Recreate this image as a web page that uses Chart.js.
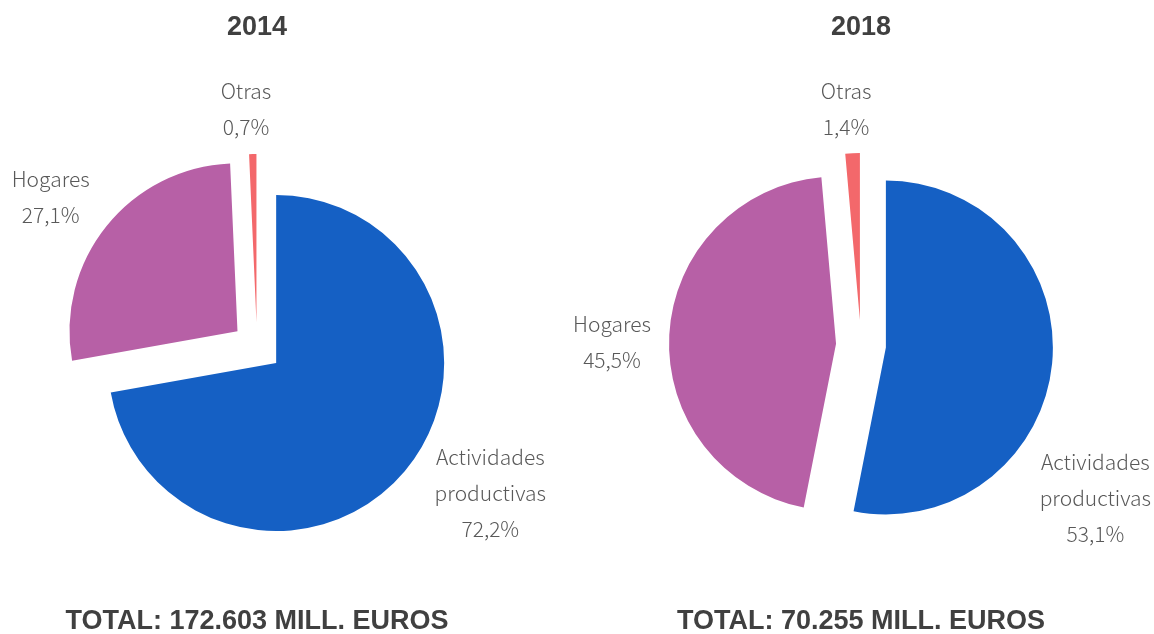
<!DOCTYPE html>
<html lang="es">
<head>
<meta charset="UTF-8">
<title>Distribución por sector</title>
<script src="https://cdn.jsdelivr.net/npm/chart.js"></script>
<style>
    body { margin: 0; background: #fff; }
    .wrap { position: relative; width: 1154px; height: 634px; }
    .wrap canvas { position: absolute; top: 0; }
    #pie2014 { left: 0; }
    #pie2018 { left: 540px; }
</style>
</head>
<body>
<div class="wrap">
    <canvas id="pie2014" width="577" height="634"></canvas>
    <canvas id="pie2018" width="614" height="634"></canvas>
</div>
<script>
    // datos
    const categories = [['Actividades', 'productivas'], 'Hogares', 'Otras'];
    const years = ['2014', '2018'];
    const shares2014 = [72.2, 27.1, 0.7];
    const shares2018 = [53.1, 45.5, 1.4];
    const totals = ['172.603', '70.255'];

    const colors = ['#1560C4', '#B760A6', '#F3686B'];
    const textColor = '#595959';

    // separa cada porción del centro (pie "explotado")
    const explodePlugin = {
        id: 'explode',
        beforeDatasetDraw(chart, args, opts) {
            const ctx = chart.ctx;
            args.meta.data.forEach(arc => {
                const p = arc.getProps(['startAngle', 'endAngle'], true);
                const mid = (p.startAngle + p.endAngle) / 2;
                ctx.save();
                ctx.translate(Math.cos(mid) * opts.distance, Math.sin(mid) * opts.distance);
                arc.draw(ctx);
                ctx.restore();
            });
            return false;
        }
    };

    // etiquetas fuera del círculo
    const outLabels = {
        id: 'outLabels',
        afterDatasetsDraw(chart, args, opts) {
            const ctx = chart.ctx;
            const meta = chart.getDatasetMeta(0);
            const values = chart.data.datasets[0].data;
            ctx.save();
            ctx.font = '300 21px "Noto Sans CJK JP", "Noto Sans", sans-serif';
            ctx.fillStyle = textColor;
            ctx.textAlign = 'center';
            ctx.textBaseline = 'middle';
            meta.data.forEach((arc, i) => {
                const p = arc.getProps(['x', 'y', 'startAngle', 'endAngle', 'outerRadius'], true);
                const ang = (p.startAngle + p.endAngle) / 2 + opts.shift[i] * Math.PI / 180;
                const d = p.outerRadius + opts.gap[i];
                const px = p.x + Math.cos(ang) * d;
                const py = p.y + Math.sin(ang) * d;
                const name = chart.data.labels[i];
                const lines = (Array.isArray(name) ? name : [name])
                    .concat(values[i].toFixed(1).replace('.', ',') + '%');
                lines.forEach((t, k) => {
                    ctx.fillText(t, px, py + (k - (lines.length - 1) / 2) * 36);
                });
            });
            ctx.restore();
        }
    };

    function makePie(id, year, shares, total, radius, padTitle, pad, labelShift, labelGap) {
        new Chart(document.getElementById(id), {
            type: 'pie',
            data: {
                labels: categories,
                datasets: [{
                    data: shares,
                    backgroundColor: colors,
                    borderWidth: 0
                }]
            },
            options: {
                responsive: false,
                animation: false,
                radius: radius,
                layout: { padding: pad },
                plugins: {
                    legend: { display: false },
                    tooltip: { enabled: false },
                    title: {
                        display: true,
                        text: year,
                        fullSize: false,
                        color: '#404040',
                        font: { family: '"Liberation Sans", Arial, sans-serif', size: 27, weight: 'bold', lineHeight: 1.2 },
                        padding: { top: 11, bottom: padTitle }
                    },
                    subtitle: {
                        display: true,
                        position: 'bottom',
                        text: 'TOTAL: ' + total + ' MILL. EUROS',
                        fullSize: false,
                        color: '#404040',
                        font: { family: '"Liberation Sans", Arial, sans-serif', size: 27, weight: 'bold', lineHeight: 0.9 },
                        padding: 0
                    },
                    explode: { distance: 25 },
                    outLabels: { shift: labelShift, gap: labelGap }
                }
            },
            plugins: [explodePlugin, outLabels]
        });
    }

    makePie('pie2014', years[0], shares2014, totals[0], 168, 40.9,
        { left: 0, right: 63, top: 0, bottom: 0 }, [-8, -2.7, -1.4], [107, 87, 70]);
    makePie('pie2018', years[1], shares2018, totals[1], 167, 36.9,
        { left: 28, right: 0, top: 0, bottom: 0 }, [27.6, -2.3, -1.1], [113, 82, 69.5]);
</script>
</body>
</html>
